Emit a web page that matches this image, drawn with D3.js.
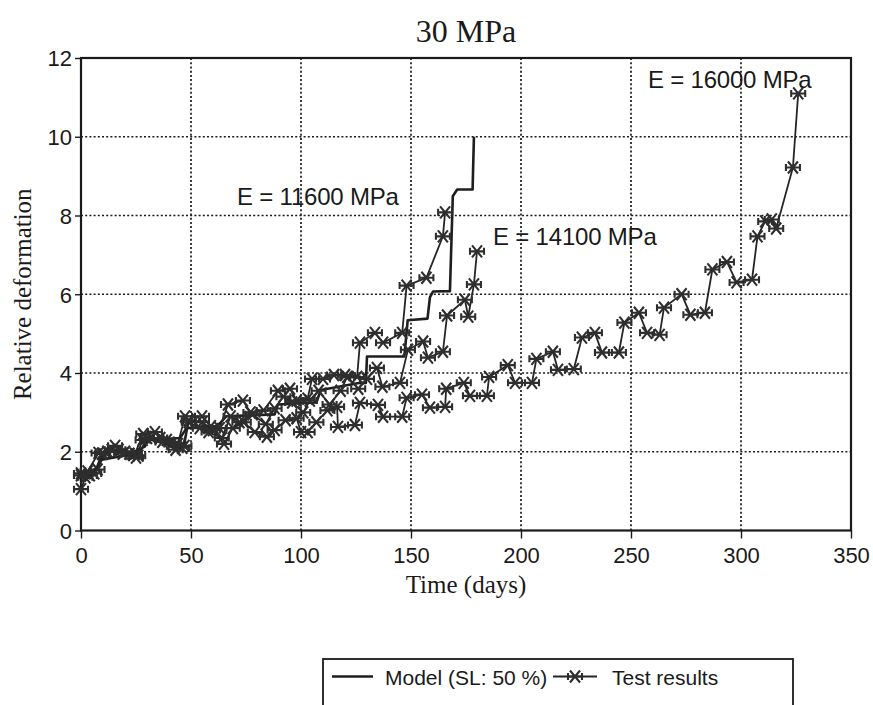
<!DOCTYPE html>
<html>
<head>
<meta charset="utf-8">
<script src="https://cdn.jsdelivr.net/npm/d3@7"></script>
<style>
  body { margin: 0; background: #fff; }
  svg { display: block; }
  .tick-label { font-family: "Liberation Sans", Arial, sans-serif; font-size: 22px; fill: #1a1a1a; }
  .serif { font-family: "Liberation Serif", "Times New Roman", serif; fill: #1a1a1a; }
  .note { font-family: "Liberation Sans", Arial, sans-serif; font-size: 24px; fill: #1a1a1a; letter-spacing: -0.2px; }
  .legend-text { font-family: "Liberation Sans", Arial, sans-serif; font-size: 21px; fill: #1a1a1a; }
</style>
</head>
<body>
<div id="chart"></div>
<script>
// ---- data ----
const xTicks = [0, 50, 100, 150, 200, 250, 300, 350];
const yTicks = [0, 2, 4, 6, 8, 10, 12];

// test results, [days, relative deformation]
const test11600 = [
  [0, 1.45], [3, 1.5], [8, 1.97], [12, 2.0], [15.5, 2.15], [20, 2.0], [24.5, 1.95],
  [28.3, 2.45], [33.6, 2.5], [39, 2.3], [44, 2.2], [47.3, 2.9], [55, 2.9], [59, 2.65],
  [63, 2.6], [66.8, 3.2], [73.6, 3.3], [77, 3.0], [83, 3.05], [89.5, 3.55], [95, 3.6],
  [98, 3.3], [103, 3.35], [105, 3.85], [110, 3.85], [115, 3.95], [120, 3.95],
  [125.5, 3.9], [126.8, 4.77], [133.6, 5.02], [137.3, 4.77], [146, 5.02], [148, 6.22],
  [157, 6.42], [164.5, 7.47], [165.5, 8.08]
];
const test14100 = [
  [0, 1.4], [4, 1.4], [7.5, 1.55], [10, 1.95], [17, 2.05], [22, 1.95], [26, 1.9],
  [30, 2.35], [36, 2.35], [41, 2.2], [46, 2.1], [49, 2.75], [54, 2.6], [58, 2.5],
  [64, 2.35], [68, 2.9], [72, 2.75], [78, 2.95], [84, 2.7], [88, 3.1], [92, 3.4],
  [96, 3.25], [101, 3.0], [104, 3.3], [108, 3.55], [113, 3.2], [118, 3.55], [121, 3.9],
  [126, 3.6], [130, 3.85], [134.5, 4.13], [137, 3.65], [145, 3.75], [148.6, 4.59],
  [155.5, 4.8], [157.7, 4.39], [164.5, 4.54], [166.4, 5.46], [174.5, 5.86], [176, 5.43],
  [178.6, 6.25], [180, 7.09]
];
const test16000 = [
  [0, 1.05], [2, 1.35], [6, 1.45], [9.5, 1.95], [14, 2.05], [19, 1.95], [25, 1.85],
  [28, 2.3], [32, 2.35], [37, 2.25], [43, 2.05], [47, 2.15], [49, 2.8], [55, 2.75],
  [60, 2.55], [65, 2.2], [69, 2.6], [74, 2.75], [79, 2.5], [84.5, 2.38], [88, 2.55],
  [93, 2.8], [98, 2.85], [100, 2.5], [103, 2.5], [107, 2.75], [112, 3.05], [116.4, 3.14],
  [116.8, 2.63], [124.5, 2.68], [126.8, 3.24], [135, 3.19], [137.3, 2.89], [146, 2.89],
  [148, 3.37], [155, 3.45], [158.6, 3.12], [165.5, 3.14], [166, 3.6], [174, 3.75],
  [176.8, 3.42], [184.5, 3.42], [185.5, 3.9], [194, 4.2], [197.3, 3.75], [205, 3.75],
  [207, 4.36], [214.5, 4.54], [216.8, 4.08], [224, 4.1], [227.7, 4.9], [233.6, 5.02],
  [236.8, 4.52], [244.5, 4.52], [247, 5.28], [253.6, 5.53], [257.3, 5.02], [263, 4.97],
  [265, 5.66], [273, 6.0], [277, 5.48], [283.6, 5.53], [287, 6.63], [293.6, 6.82],
  [298, 6.3], [305, 6.37], [307.5, 7.47], [311, 7.85], [314, 7.9], [316, 7.67],
  [323.6, 9.22], [326, 11.1]
];

// model (SL: 50 %), step-like curve
const model = [
  [0, 1.3], [0.5, 1.41], [6.4, 1.49], [9.4, 1.8], [21.4, 1.92], [29, 2.13], [30, 2.3],
  [45, 2.35], [48, 2.6], [62, 2.65], [66, 2.9], [88, 2.95], [89.5, 3.2], [107, 3.25],
  [109, 3.57], [127, 3.75], [129.5, 3.75], [130, 4.42], [147, 4.42], [148.5, 5.34],
  [157.5, 5.38], [158.6, 5.92], [160, 6.07], [167.7, 6.08], [169, 8.49], [171, 8.66],
  [178, 8.66], [178.6, 10.0]
];

const notes = [
  { text: "E = 11600 MPa", day: 70.9, def: 8.27 },
  { text: "E = 14100 MPa", day: 187.3, def: 7.25 },
  { text: "E = 16000 MPa", day: 257.7, def: 11.24 }
];

// ---- chart ----
const width = 873;
const height = 705;
const margin = { top: 58, right: 22, bottom: 174.5, left: 81 };
const innerW = width - margin.left - margin.right;
const innerH = height - margin.top - margin.bottom;
const ink = "#1a1a1a";

const svg = d3.select("#chart").append("svg")
  .attr("width", width)
  .attr("height", height);

const x = d3.scaleLinear().domain([0, 350]).range([margin.left, margin.left + innerW]);
const y = d3.scaleLinear().domain([0, 12]).range([margin.top + innerH, margin.top]);

// grid (dotted)
svg.append("g").selectAll("line")
  .data(xTicks.slice(1, -1))
  .join("line")
  .attr("x1", (d) => x(d)).attr("x2", (d) => x(d))
  .attr("y1", y(0)).attr("y2", y(12))
  .attr("stroke", ink).attr("stroke-width", 1.7)
  .attr("stroke-dasharray", "2,2.2");
svg.append("g").selectAll("line")
  .data(yTicks.slice(1, -1))
  .join("line")
  .attr("x1", x(0)).attr("x2", x(350))
  .attr("y1", (d) => y(d)).attr("y2", (d) => y(d))
  .attr("stroke", ink).attr("stroke-width", 1.7)
  .attr("stroke-dasharray", "2,2.2");

// axes
const xAxis = d3.axisBottom(x).tickValues(xTicks).tickSize(8).tickPadding(5).tickFormat(d3.format("d"));
const yAxis = d3.axisLeft(y).tickValues(yTicks).tickSize(6).tickPadding(3).tickFormat(d3.format("d"));

const gx = svg.append("g").attr("transform", `translate(0,${y(0)})`).call(xAxis);
const gy = svg.append("g").attr("transform", `translate(${x(0)},0)`).call(yAxis);
[gx, gy].forEach((g) => {
  g.select(".domain").remove();
  g.selectAll(".tick line").attr("stroke", ink).attr("stroke-width", 1.4);
  g.selectAll(".tick text").attr("class", "tick-label").attr("fill", null).attr("font-size", null).attr("font-family", null);
});
gx.selectAll(".tick text").attr("dy", "0.9em");
gy.selectAll(".tick text").attr("dy", "0.36em");

// frame
svg.append("rect")
  .attr("x", x(0)).attr("y", y(12))
  .attr("width", x(350) - x(0)).attr("height", y(0) - y(12))
  .attr("fill", "none").attr("stroke", ink).attr("stroke-width", 2.2);

// model line
const line = d3.line().x((d) => x(d[0])).y((d) => y(d[1]));
svg.append("path")
  .datum(model)
  .attr("d", line)
  .attr("fill", "none").attr("stroke", "#1e1e1e").attr("stroke-width", 2.6)
  .attr("stroke-linejoin", "round");

// asterisk marker
const star = "M-7,0H7M-5,-6L5,6M-5,6L5,-6M-7,-3.5V3.5M7,-3.5V3.5";

[test11600, test14100, test16000].forEach((series) => {
  svg.append("path")
    .datum(series)
    .attr("d", line)
    .attr("fill", "none").attr("stroke", "#252525").attr("stroke-width", 1.8);
  svg.append("g").selectAll("path")
    .data(series)
    .join("path")
    .attr("transform", (d) => `translate(${x(d[0])},${y(d[1])})`)
    .attr("d", star)
    .attr("fill", "none").attr("stroke", "#2e2e2e").attr("stroke-width", 2.1);
});

// annotations
svg.append("g").selectAll("text")
  .data(notes)
  .join("text")
  .attr("class", "note")
  .attr("x", (d) => x(d.day))
  .attr("y", (d) => y(d.def))
  .text((d) => d.text);

// titles
svg.append("text")
  .attr("class", "serif")
  .attr("x", (x(0) + x(350)) / 2).attr("y", 42)
  .attr("text-anchor", "middle").attr("font-size", 32)
  .text("30 MPa");
svg.append("text")
  .attr("class", "serif")
  .attr("x", (x(0) + x(350)) / 2).attr("y", y(0) + 62)
  .attr("text-anchor", "middle").attr("font-size", 25)
  .text("Time (days)");
svg.append("text")
  .attr("class", "serif")
  .attr("transform", `translate(31,${(y(0) + y(12)) / 2}) rotate(-90)`)
  .attr("text-anchor", "middle").attr("font-size", 25)
  .text("Relative deformation");

// legend
const legend = svg.append("g").attr("transform", "translate(323,659)");
legend.append("rect")
  .attr("x", 0).attr("y", 0).attr("width", 470).attr("height", 70)
  .attr("fill", "#fff").attr("stroke", ink).attr("stroke-width", 1.8);
legend.append("line")
  .attr("x1", 9).attr("x2", 50).attr("y1", 17.5).attr("y2", 17.5)
  .attr("stroke", "#1e1e1e").attr("stroke-width", 2.6);
legend.append("text").attr("class", "legend-text")
  .attr("x", 62).attr("y", 26).text("Model (SL: 50 %)");
legend.append("line")
  .attr("x1", 230).attr("x2", 274).attr("y1", 17.5).attr("y2", 17.5)
  .attr("stroke", "#252525").attr("stroke-width", 1.8);
legend.append("path")
  .attr("transform", "translate(252,17.5)")
  .attr("d", star)
  .attr("fill", "none").attr("stroke", "#2e2e2e").attr("stroke-width", 2.1);
legend.append("text").attr("class", "legend-text")
  .attr("x", 289).attr("y", 26).text("Test results");
</script>
</body>
</html>
